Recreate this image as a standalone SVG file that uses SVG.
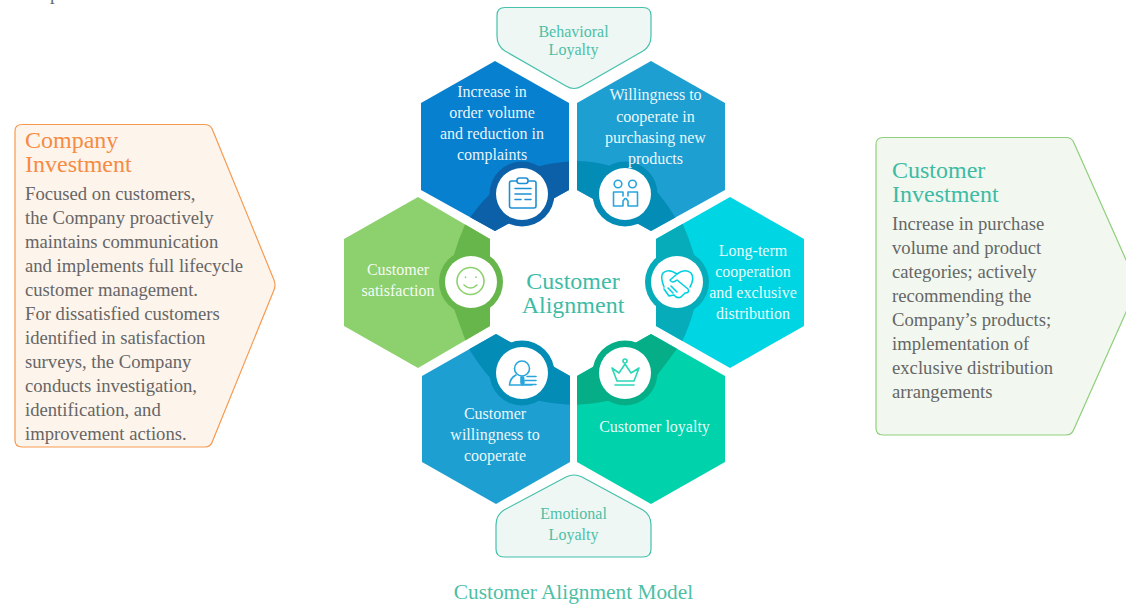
<svg xmlns="http://www.w3.org/2000/svg" width="1126" height="606" viewBox="0 0 1126 606">
<style>
text{font-family:"Liberation Serif","Times New Roman",serif}
.h{font-size:16px;fill:#fff;text-anchor:middle;fill-opacity:.93}
.tag{font-size:16px;fill:#4DBFA6;text-anchor:middle}
.tt{font-size:24px}
.b{font-size:18.67px;fill:#666}
.ic{fill:none;stroke-width:1.6;stroke-linecap:round;stroke-linejoin:round}
</style>
<defs>
<clipPath id="c1"><path d="M495 61L569 103V190L495 231L421 190V103Z"/></clipPath>
<clipPath id="c2"><path d="M651 61L725 103V190L651 231L577 190V103Z"/></clipPath>
<clipPath id="c3"><path d="M418 197L490 239V326L418 368L344 326V239Z"/></clipPath>
<clipPath id="c4"><path d="M730 197L804 239V326L730 368L656 326V239Z"/></clipPath>
<clipPath id="c5"><path d="M496 334L570 376V462L496 504L422 462V376Z"/></clipPath>
<clipPath id="c6"><path d="M651 334L725 376V462L651 504L577 462V376Z"/></clipPath>
</defs>
<rect width="1126" height="606" fill="#fff"/>
<text x="50" y="0" class="b">p</text>

<g id="company-investment">
<path d="M22 124.500H205Q211 124.500 213 131L274 280Q276 285 274 290L213 440Q211 447 205 447H22Q15 447 15 440V131Q15 124.500 22 124.500Z" fill="#FDF4EC" stroke="#F69A50" stroke-width="1.2"/>
<text class="tt" fill="#F68B43"><tspan x="25" y="148">Company</tspan><tspan x="25" y="172">Investment</tspan></text>
<text class="b"><tspan x="25" y="200">Focused on customers,</tspan><tspan x="25" y="224">the Company proactively</tspan><tspan x="25" y="248">maintains communication</tspan><tspan x="25" y="272">and implements full lifecycle</tspan><tspan x="25" y="296">customer management.</tspan><tspan x="25" y="320">For dissatisfied customers</tspan><tspan x="25" y="344">identified in satisfaction</tspan><tspan x="25" y="368">surveys, the Company</tspan><tspan x="25" y="392">conducts investigation,</tspan><tspan x="25" y="416">identification, and</tspan><tspan x="25" y="440">improvement actions.</tspan></text>
</g>

<g id="customer-investment">
<path d="M883 137.500H1066Q1072 137.500 1074 143L1135 280Q1138 286 1135 292L1074 429Q1072 435 1066 435H883Q876 435 876 428V144.500Q876 137.500 883 137.500Z" fill="#F2F8EF" stroke="#90CF7C" stroke-width="1.2"/>
<text class="tt" fill="#3DBBA5"><tspan x="892" y="178">Customer</tspan><tspan x="892" y="202">Investment</tspan></text>
<text class="b"><tspan x="892" y="230">Increase in purchase</tspan><tspan x="892" y="254">volume and product</tspan><tspan x="892" y="278">categories; actively</tspan><tspan x="892" y="302">recommending the</tspan><tspan x="892" y="326">Company’s products;</tspan><tspan x="892" y="350">implementation of</tspan><tspan x="892" y="374">exclusive distribution</tspan><tspan x="892" y="398">arrangements</tspan></text>
</g>

<g id="behavioral-loyalty">
<path d="M505 7.500H643Q651 7.500 651 15.500V36Q651 46 643 51L582 86Q574 91 566 86L505 51Q497 46 497 36V15.500Q497 7.500 505 7.500Z" fill="#EEF7F4" stroke="#45C0AB" stroke-width="1.2"/>
<text class="tag"><tspan x="573.500" y="37">Behavioral</tspan><tspan x="573.500" y="55">Loyalty</tspan></text>
</g>

<g id="emotional-loyalty">
<path d="M504 557H643Q651 557 651 549V525Q651 515 643 510L582 477Q574 473 566 477L504 510Q496 515 496 525V549Q496 557 504 557Z" fill="#EEF7F4" stroke="#45C0AB" stroke-width="1.2"/>
<text class="tag"><tspan x="573.500" y="519">Emotional</tspan><tspan x="573.500" y="540">Loyalty</tspan></text>
</g>

<g id="order-volume">
<path d="M495 61L569 103V190L495 231L421 190V103Z" fill="#0780CF"/>
<path clip-path="url(#c1)" fill="#0C60A8" d="M465 225Q478 205 492 192L540 166Q555 162 575 161V240H465Z"/>
<circle cx="522" cy="194" r="32.500" fill="#0C60A8"/>
<circle cx="522" cy="194" r="26" fill="#fff"/>
<g class="ic" stroke="#1E8FD5"><rect x="509.500" y="181" width="26.500" height="27" rx="2"/><rect x="517" y="178" width="11" height="5.500" rx="2.500" fill="#fff"/><path d="M515 188.500H531M515 194H531M515 199.500H521M525 199.500H531"/></g>
<text class="h"><tspan x="492" y="97">Increase in</tspan><tspan x="492" y="118">order volume</tspan><tspan x="492" y="139">and reduction in</tspan><tspan x="492" y="160">complaints</tspan></text>
</g>

<g id="willingness-purchase">
<path d="M651 61L725 103V190L651 231L577 190V103Z" fill="#1E9FD2"/>
<path clip-path="url(#c2)" fill="#038CB5" d="M570 161Q595 161 610 166L655 190Q665 200 680 225V240H570Z"/>
<circle cx="625" cy="194" r="32.500" fill="#038CB5"/>
<circle cx="625" cy="194" r="26" fill="#fff"/>
<g class="ic" stroke="#28A5DC"><circle cx="618" cy="184" r="3.800"/><circle cx="632.500" cy="184" r="3.800"/><path d="M623 196V192H613.500V206H623V201L625 198.500M628 196V192H637.500V206H628V201L626 198.500"/></g>
<text class="h"><tspan x="655.500" y="100">Willingness to</tspan><tspan x="655.500" y="122">cooperate in</tspan><tspan x="655.500" y="143">purchasing new</tspan><tspan x="655.500" y="164">products</tspan></text>
</g>

<g id="customer-satisfaction">
<path d="M418 197L490 239V326L418 368L344 326V239Z" fill="#8DD16F"/>
<path clip-path="url(#c3)" fill="#66B64C" d="M466 222Q458 240 453 258V306Q458 320 466 342H495V222Z"/>
<circle cx="471" cy="282" r="32" fill="#66B64C"/>
<circle cx="471" cy="282" r="26" fill="#fff"/>
<g class="ic" stroke="#8DD16F"><circle cx="470.500" cy="281" r="13.500"/><path d="M464 285Q470.500 291 477 285M465.500 277V277.500M476 277V277.500"/></g>
<text class="h"><tspan x="398" y="275">Customer</tspan><tspan x="398" y="296">satisfaction</tspan></text>
</g>

<g id="long-term-cooperation">
<path d="M730 197L804 239V326L730 368L656 326V239Z" fill="#00D6E3"/>
<path clip-path="url(#c4)" fill="#06ACBA" d="M682 222Q690 240 695 258V306Q690 325 682 342H650V222Z"/>
<circle cx="677" cy="282" r="32" fill="#06ACBA"/>
<circle cx="677" cy="282" r="26" fill="#fff"/>
<g class="ic" stroke="#00D0E0"><path d="M664 287Q660 277 663 273Q668 268 677 274Q685 268 691 273Q695 278 690 287M677 274L670 280Q672 284 677 280L688 289Q690 293 685 293L681 297Q677 299 674 295L669 296L664 289"/><path d="M668 288L673 293M671 286L677 292"/></g>
<text class="h"><tspan x="753" y="256">Long-term</tspan><tspan x="753" y="277">cooperation</tspan><tspan x="753" y="298">and exclusive</tspan><tspan x="753" y="319">distribution</tspan></text>
</g>

<g id="customer-willingness">
<path d="M496 334L570 376V462L496 504L422 462V376Z" fill="#1E9FD2"/>
<path clip-path="url(#c5)" fill="#038CB5" d="M465 342Q478 365 492 380L540 401Q555 404 575 405V330H465Z"/>
<circle cx="522" cy="373" r="32.500" fill="#038CB5"/>
<circle cx="522" cy="373" r="26" fill="#fff"/>
<g class="ic" stroke="#28A5DC"><circle cx="522" cy="368.500" r="7.500"/><path d="M516 375Q510 378 509.500 385H532M525 380.500H536M525 384.500H536M527 376.500H536"/><path d="M521 377H523.500L524 383L522.500 385L521 383Z" fill="#28A5DC"/></g>
<text class="h"><tspan x="495" y="419">Customer</tspan><tspan x="495" y="440">willingness to</tspan><tspan x="495" y="461">cooperate</tspan></text>
</g>

<g id="customer-loyalty">
<path d="M651 334L725 376V462L651 504L577 462V376Z" fill="#00D3AB"/>
<path clip-path="url(#c6)" fill="#06AE87" d="M570 405Q595 404 612 400L655 378Q665 365 682 342V330H570Z"/>
<circle cx="625" cy="373" r="32.500" fill="#06AE87"/>
<circle cx="625" cy="373" r="26" fill="#fff"/>
<g class="ic" stroke="#2CD6B7"><circle cx="625" cy="361" r="2"/><path d="M612 368L617 381H634L639 368L631 373L625 364L619 373Z"/><path d="M615 385H634"/></g>
<text class="h"><tspan x="654.500" y="432">Customer loyalty</tspan></text>
</g>

<g id="center">
<text class="tt" fill="#3DBBA5" text-anchor="middle"><tspan x="573" y="289">Customer</tspan><tspan x="573" y="313">Alignment</tspan></text>
</g>
<text x="573.500" y="599" font-size="21.330" fill="#4DBFA6" text-anchor="middle">Customer Alignment Model</text>
</svg>
